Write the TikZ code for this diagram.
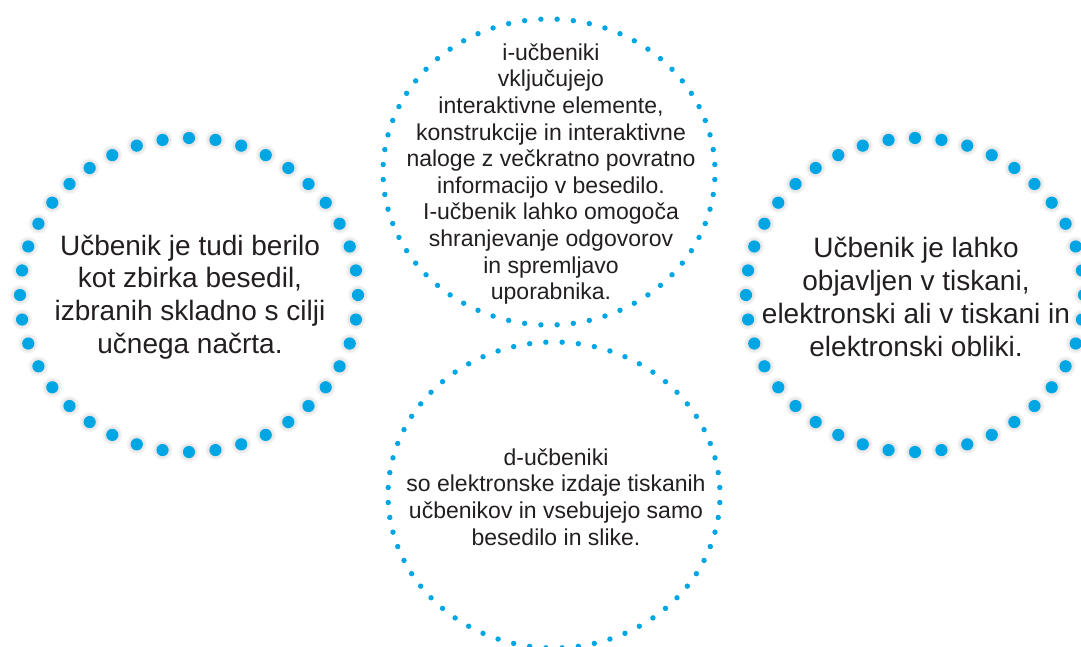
\documentclass[tikz,border=0pt]{standalone}
\usepackage{fontspec}
\setmainfont{Liberation Sans}
\usetikzlibrary{calc}
\definecolor{dotblue}{RGB}{0,166,228}
\definecolor{inkgray}{RGB}{35,31,32}

\begin{document}
\begin{tikzpicture}[x=1pt,y=-1pt,
 txt/.style={text=inkgray,align=center,inner sep=0pt},
 bigtxt/.style={txt,font=\fontsize{28}{32.8}\selectfont},
 smalltxt/.style={txt,font=\fontsize{23}{26.6}\selectfont},
 halo/.style={fill=black,opacity=0.045},
 bigdot/.style={fill=dotblue},
 smalldot/.style={fill=dotblue}]
\useasboundingbox (0,0) rectangle (1081,646);
\clip (0,0) rectangle (1081,646);
\node[bigtxt] (reader) at (190,297) {Učbenik je tudi berilo\\kot zbirka besedil,\\izbranih skladno s cilji\\učnega načrta.};
\node[bigtxt] (forms) at (916,297) {Učbenik je lahko\\objavljen v tiskani,\\elektronski ali v tiskani in\\elektronski obliki.};
\node[smalltxt] (ibook) at (551,174) {i-učbeniki\\vključujejo\\interaktivne elemente,\\konstrukcije in interaktivne\\naloge z večkratno povratno\\informacijo v besedilo.\\I-učbenik lahko omogoča\\shranjevanje odgovorov\\in spremljavo\\uporabnika.};
\node[smalltxt] (dbook) at (556,497) {d-učbeniki\\so elektronske izdaje tiskanih\\učbenikov in vsebujejo samo\\besedilo in slike.};
% big dotted rings
\foreach \c in {reader,forms}
 \foreach \a in {0,9,...,351} {
  \fill[halo] ($(\c)+(-1,-2)+(\a:169 and 157)$) circle (10);
  \fill[halo] ($(\c)+(-1,-2)+(\a:169 and 157)$) circle (8.3);
  \fill[bigdot] ($(\c)+(-1,-2)+(\a:169 and 157)$) circle (6.1);
 }
% small dotted rings
\foreach \c in {ibook,dbook}
 \foreach \a in {2.8125,8.4375,...,360}
  \fill[smalldot] ($(\c)+(-2,-2)+(\a:166 and 153)$) circle (2.7);
\end{tikzpicture}
\end{document}
